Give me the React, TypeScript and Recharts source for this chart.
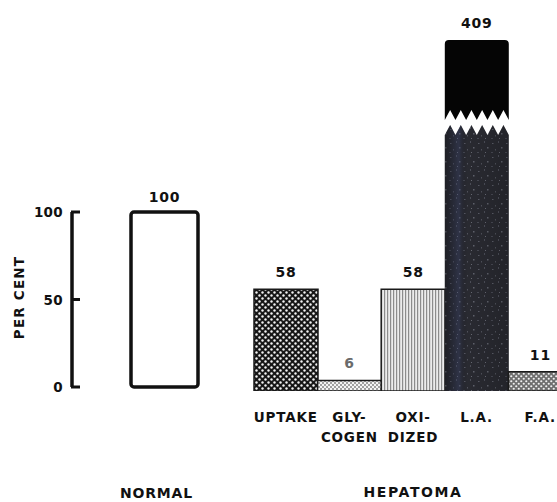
import React from 'react';
import { BarChart, Bar, XAxis, YAxis, LabelList, Rectangle, Cell } from 'recharts';

// values (per cent of normal)
const normalCategories = ['NORMAL'];
const normalValues = [100];
const hepatomaCategories = ['UPTAKE', 'GLY-\nCOGEN', 'OXI-\nDIZED', 'L.A.', 'F.A.'];
const hepatomaValues = [58, 6, 58, 409, 11];
const percentTicks = [0, 50, 100];
const groupLabel = 'HEPATOMA';
const yTitle = 'PER CENT';

// the hepatoma scale stops here; bars above it are drawn broken
const Y_MAX = 200;

const normalData = normalCategories.map((name, i) => ({ name, value: normalValues[i] }));
const hepatomaData = hepatomaCategories.map((name, i) => ({ name, value: hepatomaValues[i] }));

const fills = ['url(#dots)', 'url(#fineCheck)', 'url(#vlines)', 'url(#speckle)', 'url(#check)'];

const FONT = "'DejaVu Sans', 'Liberation Sans', sans-serif";
const textStyle: React.CSSProperties = {
  fontFamily: FONT,
  fontWeight: 700,
  fontSize: 13.5,
  letterSpacing: 0.8,
  fill: '#111',
};

const RIGHT_TOP = 40;

const PercentTick = (props: any) => {
  const { x, y, payload } = props;
  return (
    <g>
      <text x={x} y={y} dy={5} textAnchor="end" style={{ ...textStyle, fontSize: 13.5, letterSpacing: 0.3 }}>
        {payload.value}
      </text>
      <line x1={x + 8} x2={x + 17} y1={y} y2={y} stroke="#111" strokeWidth={3} />
    </g>
  );
};

const PerCentTitle = (props: any) => {
  const vb = props.viewBox;
  const cx = vb.x + 19;
  const cy = vb.y + vb.height / 2 - 2;
  return (
    <text
      x={cx}
      y={cy}
      textAnchor="middle"
      dominantBaseline="central"
      transform={`rotate(-90, ${cx}, ${cy})`}
      style={{ ...textStyle, fontSize: 13.5, letterSpacing: 1.2 }}
    >
      {yTitle}
    </text>
  );
};

const NormalTick = (props: any) => {
  const { x, y, payload } = props;
  return (
    <text x={x - 8} y={y} dy={111} textAnchor="middle" style={{ ...textStyle, fontSize: 14 }}>
      {payload.value}
    </text>
  );
};

const HepatomaTick = (props: any) => {
  const { x, y, payload } = props;
  const lines = String(payload.value).split('\n');
  return (
    <text x={x} y={y} textAnchor="middle" style={textStyle}>
      {lines.map((l, i) => (
        <tspan key={i} x={x} dy={i === 0 ? 31 : 20}>
          {l}
        </tspan>
      ))}
    </text>
  );
};

const GroupTitle = (props: any) => {
  const vb = props.viewBox;
  return (
    <text
      x={vb.x + vb.width / 2}
      y={vb.y + vb.height - 5}
      textAnchor="middle"
      style={{ ...textStyle, fontSize: 14, letterSpacing: 1.6 }}
    >
      {groupLabel}
    </text>
  );
};

const ValueLabel = (props: any) => {
  const { x, y, width, value, index } = props;
  const top = Math.max(Number(y), RIGHT_TOP);
  return (
    <text
      x={Number(x) + Number(width) / 2}
      y={top - 12}
      textAnchor="middle"
      style={{ ...textStyle, fontSize: 14, fill: index === 1 ? '#6b6b6b' : '#111' }}
    >
      {value}
    </text>
  );
};

const HepatomaBar = (props: any) => {
  const { x, y, width, height, fill, value, background } = props;
  if (value <= Y_MAX) {
    return (
      <Rectangle x={x} y={y} width={width} height={height} fill={fill} stroke="#1a1a1a" strokeWidth={1.5} />
    );
  }
  // broken bar: solid cap, white zig-zag gap, then the textured column
  const top = background && background.y != null ? background.y : RIGHT_TOP;
  const bottom = y + height;
  const r = 4;
  const capBase = top + 70;
  const depth = 10;
  const gap = 15;
  const n = 6;
  const tw = width / n;
  let cap = `M${x},${top + r} Q${x},${top} ${x + r},${top} L${x + width - r},${top} Q${x + width},${top} ${x + width},${top + r} L${x + width},${capBase + depth}`;
  for (let i = n - 1; i >= 0; i--) {
    cap += ` L${x + (i + 0.5) * tw},${capBase} L${x + i * tw},${capBase + depth}`;
  }
  cap += ' Z';
  let low = `M${x},${bottom} L${x},${capBase + depth + gap}`;
  for (let i = 0; i < n; i++) {
    low += ` L${x + (i + 0.5) * tw},${capBase + gap} L${x + (i + 1) * tw},${capBase + depth + gap}`;
  }
  low += ` L${x + width},${bottom} Z`;
  return (
    <g>
      <path d={cap} fill="#050505" />
      <path d={low} fill={fill} />
      <path d={low} fill="url(#streak)" />
    </g>
  );
};

export default function App() {
  return (
    <div
      style={{
        position: 'absolute',
        left: 0,
        top: 0,
        width: 557,
        height: 502,
        overflow: 'hidden',
        background: '#fff',
      }}
    >
      <div style={{ position: 'absolute', left: 0, top: 0 }}>
        <BarChart
          width={230}
          height={502}
          data={normalData}
          margin={{ top: 212, right: 0, bottom: 0, left: 0 }}
          barCategoryGap={0}
        >
          <XAxis
            dataKey="name"
            height={115}
            padding={{ left: 59, right: 32 }}
            axisLine={false}
            tickLine={false}
            tickSize={0}
            tickMargin={0}
            tick={<NormalTick />}
          />
          <YAxis
            width={72}
            domain={[0, 100]}
            ticks={percentTicks}
            interval={0}
            axisLine={{ stroke: '#111', strokeWidth: 3.5 }}
            tickLine={false}
            tickSize={0}
            tickMargin={9}
            tick={<PercentTick />}
            label={{ value: yTitle, content: <PerCentTitle /> }}
          />
          <Bar
            dataKey="value"
            fill="#fff"
            stroke="#111"
            strokeWidth={3.5}
            radius={3}
            isAnimationActive={false}
          >
            <LabelList dataKey="value" position="top" offset={10} style={{ ...textStyle, fontSize: 14 }} />
          </Bar>
        </BarChart>
      </div>

      <div style={{ position: 'absolute', left: 0, top: 0 }}>
        <BarChart
          width={575}
          height={502}
          data={hepatomaData}
          margin={{ top: RIGHT_TOP, right: 3, bottom: 0, left: 254 }}
          barCategoryGap={0}
        >
          <defs>
            <pattern id="dots" width="6" height="6" patternUnits="userSpaceOnUse">
              <rect width="6" height="6" fill="#181818" />
              <circle cx="1.5" cy="1.5" r="1.2" fill="#f4f4f4" />
              <circle cx="4.5" cy="4.5" r="1.2" fill="#f4f4f4" />
            </pattern>
            <pattern id="fineCheck" width="4" height="4" patternUnits="userSpaceOnUse">
              <rect width="4" height="4" fill="#f4f4f4" />
              <rect x="0" y="0" width="2" height="2" fill="#a0a0a0" />
              <rect x="2" y="2" width="2" height="2" fill="#a0a0a0" />
            </pattern>
            <pattern id="vlines" width="3" height="3" patternUnits="userSpaceOnUse">
              <rect width="3" height="3" fill="#ececec" />
              <rect x="0" y="0" width="1.2" height="3" fill="#8c8c8c" />
            </pattern>
            <pattern id="speckle" width="14" height="14" patternUnits="userSpaceOnUse">
              <rect width="14" height="14" fill="#292a31" />
              <rect x="2" y="3" width="1.5" height="1" fill="#5a5c66" />
              <rect x="8" y="1" width="1" height="2" fill="#4c4e58" />
              <rect x="11" y="7" width="1.5" height="1.5" fill="#5f616b" />
              <rect x="5" y="9" width="1" height="1.5" fill="#50525c" />
              <rect x="1" y="12" width="2" height="1" fill="#474953" />
              <rect x="9" y="12" width="1" height="1" fill="#666872" />
            </pattern>
            <linearGradient id="streak" x1="0" y1="0" x2="1" y2="0">
              <stop offset="0%" stopColor="#000" stopOpacity={0.25} />
              <stop offset="22%" stopColor="#3a4470" stopOpacity={0.35} />
              <stop offset="35%" stopColor="#000" stopOpacity={0} />
              <stop offset="100%" stopColor="#000" stopOpacity={0.15} />
            </linearGradient>
            <pattern id="check" width="5" height="5" patternUnits="userSpaceOnUse">
              <rect width="5" height="5" fill="#6e6e6e" />
              <circle cx="1.25" cy="1.25" r="1.1" fill="#f0f0f0" />
              <circle cx="3.75" cy="3.75" r="1.1" fill="#f0f0f0" />
            </pattern>
          </defs>
          <XAxis
            dataKey="name"
            height={111}
            axisLine={false}
            tickLine={false}
            tickSize={0}
            tickMargin={0}
            interval={0}
            tick={<HepatomaTick />}
            label={{ value: groupLabel, content: <GroupTitle /> }}
          />
          <YAxis hide domain={[0, Y_MAX]} allowDataOverflow />
          <Bar dataKey="value" shape={<HepatomaBar />} isAnimationActive={false}>
            {hepatomaData.map((d, i) => (
              <Cell key={d.name} fill={fills[i]} />
            ))}
            <LabelList dataKey="value" content={<ValueLabel />} />
          </Bar>
        </BarChart>
      </div>
    </div>
  );
}
